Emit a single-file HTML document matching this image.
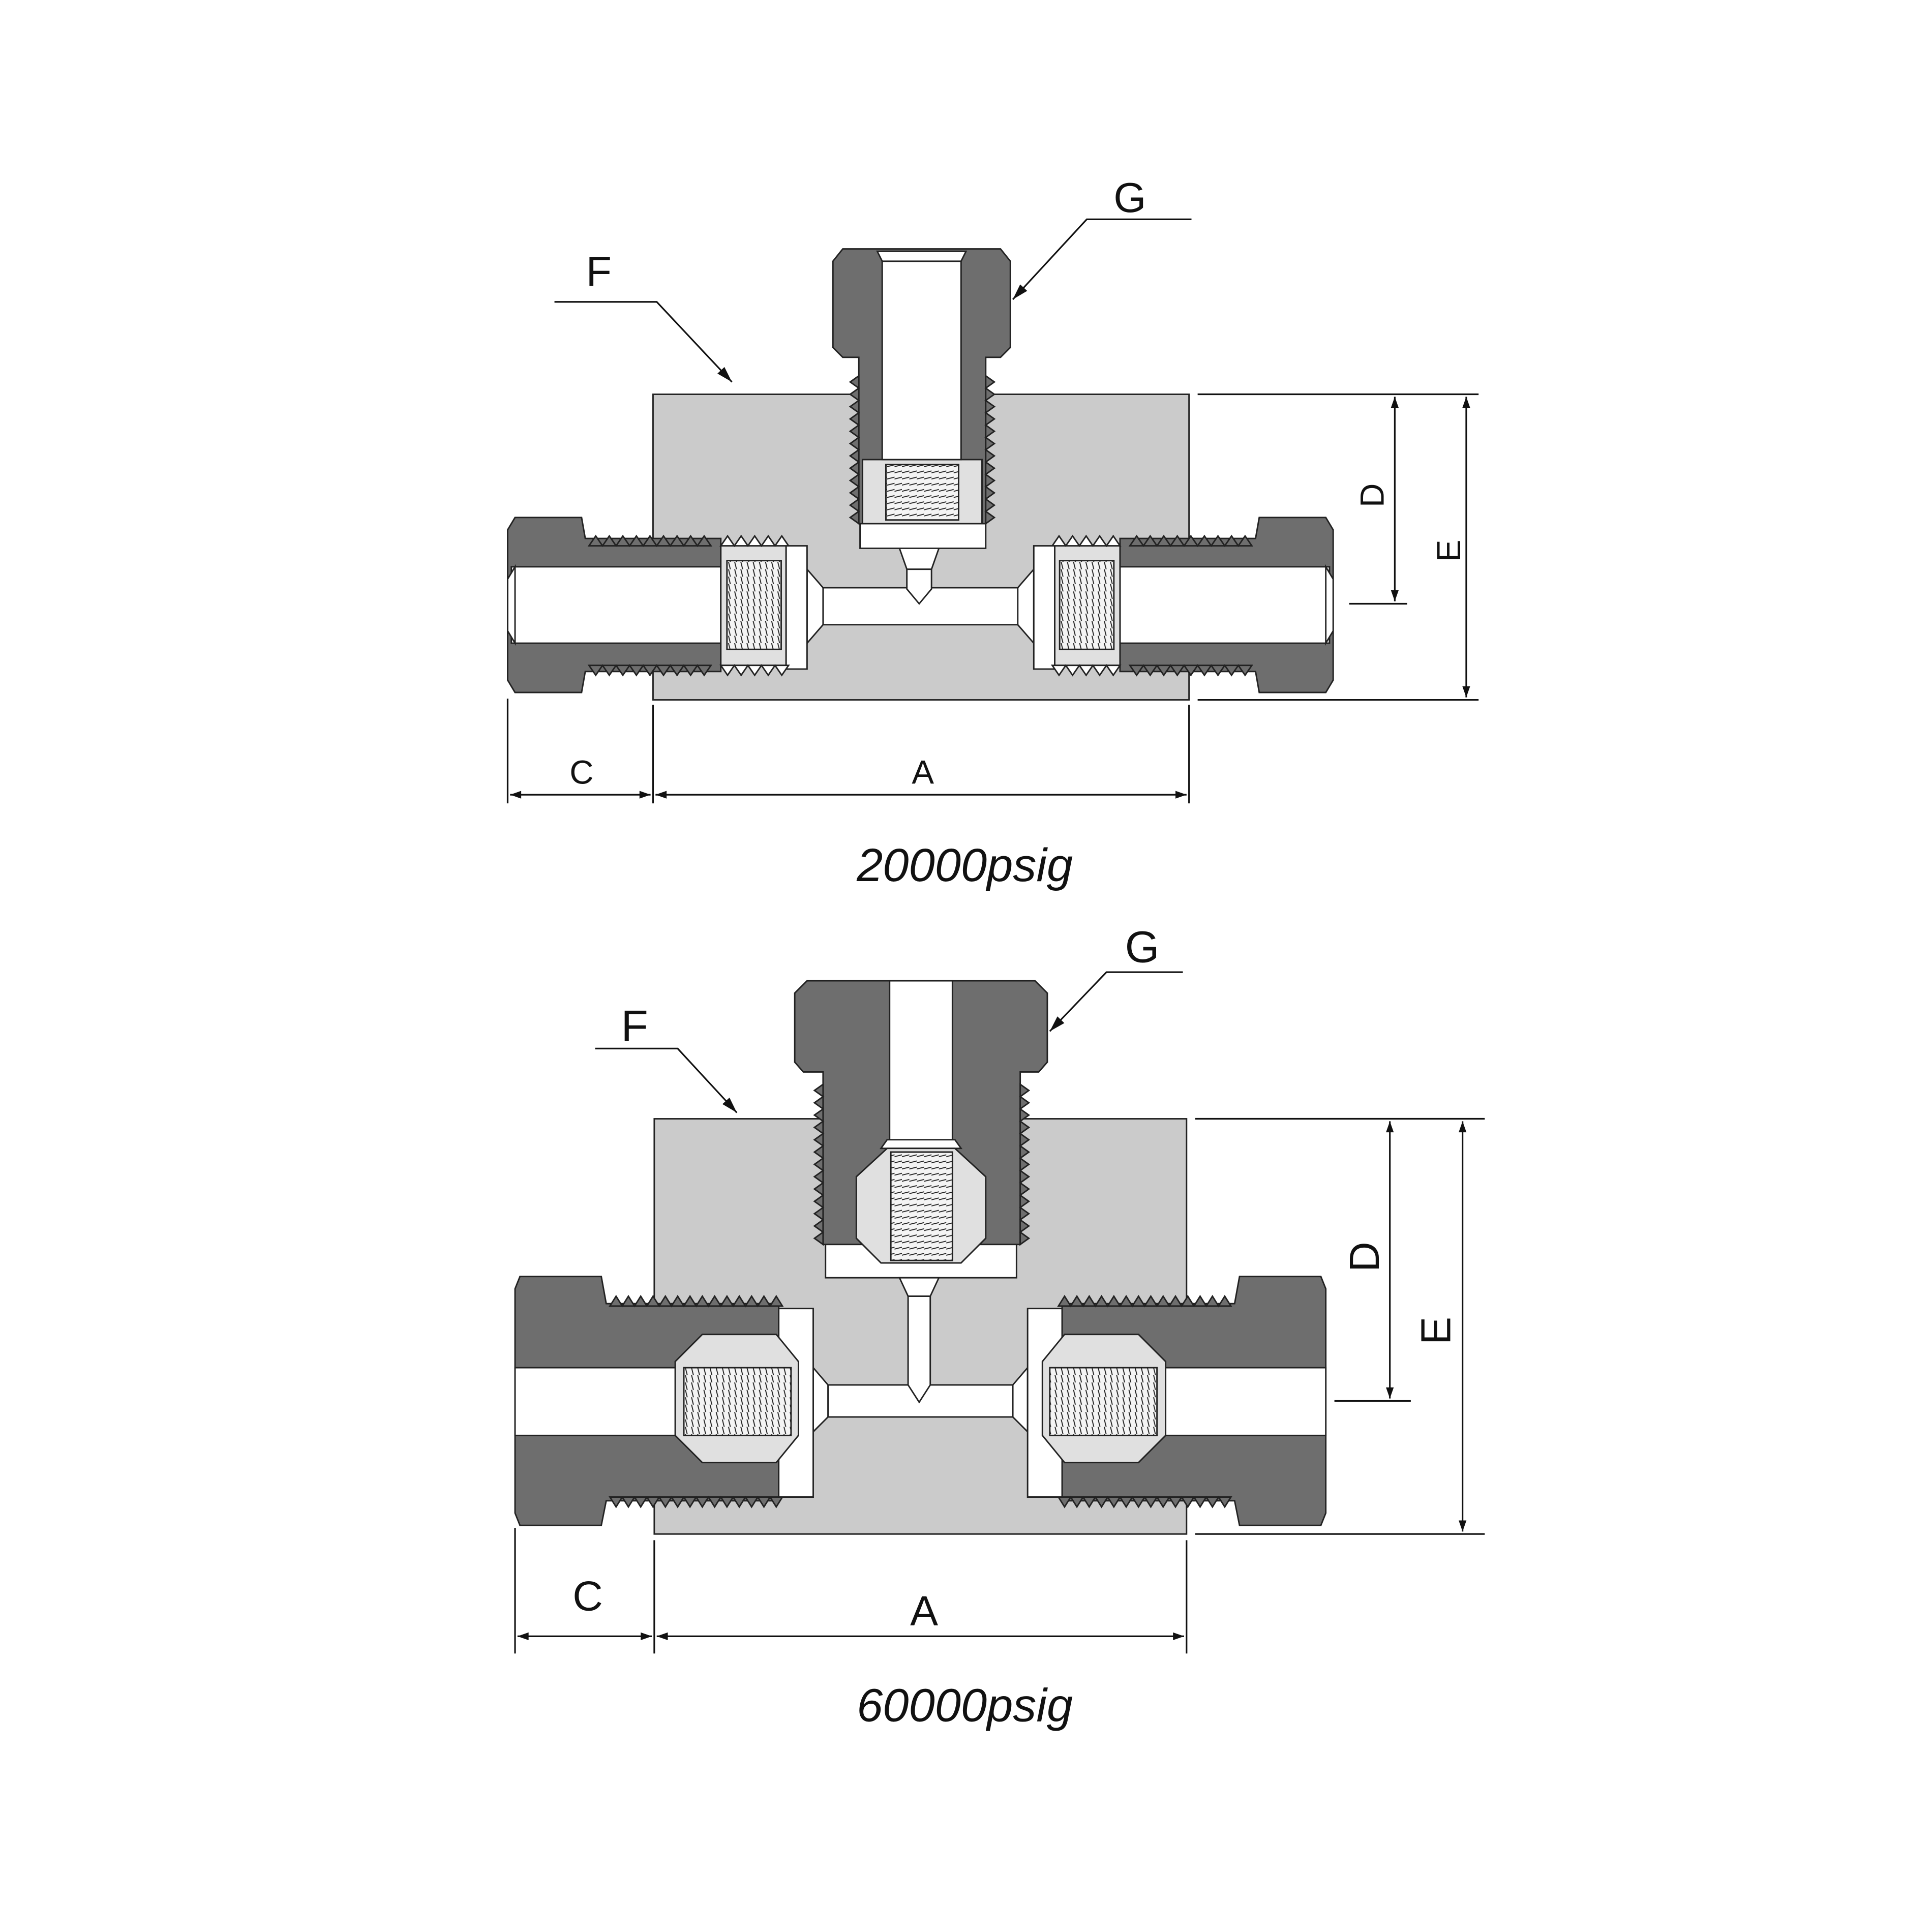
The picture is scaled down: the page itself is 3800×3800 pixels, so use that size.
<!DOCTYPE html>
<html><head><meta charset="utf-8"><style>
html,body{margin:0;padding:0;background:#fff;}
svg{display:block;}
text{font-family:"Liberation Sans",sans-serif;fill:#111;}
</style></head><body>
<svg id="s" width="3800" height="3800" viewBox="0 0 1568 1568" xmlns="http://www.w3.org/2000/svg">
<defs>
<marker id="ar" viewBox="0 0 10 10" refX="10" refY="5" markerWidth="13" markerHeight="9" orient="auto-start-reverse" markerUnits="userSpaceOnUse"><path d="M0,1.5 L10,5 L0,8.5 z" fill="#111"/></marker>
<marker id="ar2" viewBox="0 0 10 10" refX="10" refY="5" markerWidth="30" markerHeight="13" orient="auto" markerUnits="userSpaceOnUse"><path d="M0,2 L10,5 L0,8 z" fill="#111"/></marker>
<pattern id="hv" width="6" height="5" patternUnits="userSpaceOnUse"><rect width="6" height="5" fill="#f4f4f4"/><path d="M-1,4 L7,2" stroke="#222" stroke-width="0.8"/></pattern>
<pattern id="hh" width="5" height="6" patternUnits="userSpaceOnUse"><rect width="5" height="6" fill="#f4f4f4"/><path d="M1,-1 L3,7" stroke="#222" stroke-width="0.8"/></pattern>
</defs>
<g id="g" stroke="#222" stroke-width="1.2"></g>
<g stroke="#111" stroke-width="1.3" fill="none">
<line x1="972" y1="320" x2="1200" y2="320"/><line x1="972" y1="568" x2="1200" y2="568"/>
<line x1="1132" y1="322" x2="1132" y2="488" marker-start="url(#ar)" marker-end="url(#ar)"/>
<line x1="1095" y1="490" x2="1142" y2="490"/>
<line x1="1190" y1="322" x2="1190" y2="566" marker-start="url(#ar)" marker-end="url(#ar)"/>
<line x1="412" y1="567" x2="412" y2="652"/><line x1="530" y1="572" x2="530" y2="652"/><line x1="965" y1="572" x2="965" y2="652"/>
<line x1="414" y1="645" x2="528" y2="645" marker-start="url(#ar)" marker-end="url(#ar)"/>
<line x1="532" y1="645" x2="963" y2="645" marker-start="url(#ar)" marker-end="url(#ar)"/>
<polyline points="450,245 533,245 594,310" marker-end="url(#ar2)"/>
<polyline points="967,178 882,178 822,243" marker-end="url(#ar2)"/>
<line x1="970" y1="908" x2="1205" y2="908"/><line x1="970" y1="1245" x2="1205" y2="1245"/>
<line x1="1128" y1="910" x2="1128" y2="1135" marker-start="url(#ar)" marker-end="url(#ar)"/>
<line x1="1083" y1="1137" x2="1145" y2="1137"/>
<line x1="1187" y1="910" x2="1187" y2="1243" marker-start="url(#ar)" marker-end="url(#ar)"/>
<line x1="418" y1="1240" x2="418" y2="1342"/><line x1="531" y1="1250" x2="531" y2="1342"/><line x1="963" y1="1250" x2="963" y2="1342"/>
<line x1="420" y1="1328" x2="529" y2="1328" marker-start="url(#ar)" marker-end="url(#ar)"/>
<line x1="533" y1="1328" x2="961" y2="1328" marker-start="url(#ar)" marker-end="url(#ar)"/>
<polyline points="483,851 550,851 598,903" marker-end="url(#ar2)"/>
<polyline points="960,789 898,789 852,837" marker-end="url(#ar2)"/>
</g>
<text x="486" y="232" font-size="34" text-anchor="middle">F</text>
<text x="917" y="172" font-size="34" text-anchor="middle">G</text>
<text x="472" y="636" font-size="27" text-anchor="middle">C</text>
<text x="749" y="636" font-size="27" text-anchor="middle">A</text>
<text transform="translate(1123,402) rotate(-90)" font-size="27" text-anchor="middle">D</text>
<text transform="translate(1185,447) rotate(-90)" font-size="27" text-anchor="middle">E</text>
<text x="783" y="715" font-size="38" font-style="italic" text-anchor="middle">20000psig</text>
<text x="515" y="845" font-size="36" text-anchor="middle">F</text>
<text x="927" y="781" font-size="36" text-anchor="middle">G</text>
<text x="477" y="1307" font-size="34" text-anchor="middle">C</text>
<text x="750" y="1319" font-size="34" text-anchor="middle">A</text>
<text transform="translate(1119,1020) rotate(-90)" font-size="34" text-anchor="middle">D</text>
<text transform="translate(1177,1080) rotate(-90)" font-size="34" text-anchor="middle">E</text>
<text x="783" y="1397" font-size="38" font-style="italic" text-anchor="middle">60000psig</text>
</svg>
<script>
var D="#6e6e6e",B="#cbcbcb",L="#e0e0e0",W="#ffffff";
var o=[];
function P(pts,f){o.push('<polygon points="'+pts.map(function(p){return p.join(",")}).join(" ")+'" fill="'+f+'"/>');}
function R(x,y,w,h,f){o.push('<rect x="'+x+'" y="'+y+'" width="'+w+'" height="'+h+'" fill="'+f+'"/>');}
function MX(pts){return pts.map(function(p){return [1494-p[0],p[1]]});}
function teethV(x,y1,y2,h,pitch,f){var pts=[[x,y1]];for(var y=y1;y+pitch<=y2+0.1;y+=pitch){pts.push([x+h,y+pitch/2]);pts.push([x,y+pitch]);}P(pts,f);}
R(530,320,435,248,B);
R(668,477,160,30,W);
P([[655,462],[668,477],[668,507],[655,522]],W);P([[839,462],[826,477],[826,507],[839,522]],W);
function topSide(m){
 var f=m?MX:function(p){return p};
 P(f([[412,430],[418,420],[472,420],[475,437],[585,437],[585,545],[475,545],[472,562],[418,562],[412,552]]),D);
 P(f([[415,460],[585,460],[585,522],[415,522]]),W);
 P(f([[418,460],[412,470],[412,512],[418,522]]),W);
 P(f([[585,443],[638,443],[638,540],[585,540]]),L);
 P(f([[590,455],[634,455],[634,527],[590,527]]),"url(#hh)");
 P(f([[638,443],[655,443],[655,543],[638,543]]),W);
 var tx=[[478,585,D],[585,640,W]];
 tx.forEach(function(t){
  var p1=[[t[0],443]],p2=[[t[0],540]];
  for(var x=t[0];x+11<=t[1]+0.1;x+=11){p1.push([x+5.5,435]);p1.push([x+11,443]);p2.push([x+5.5,548]);p2.push([x+11,540]);}
  P(f(p1),t[2]);P(f(p2),t[2]);
 });
}
topSide(false);topSide(true);
P([[676,212],[684,202],[812,202],[820,212],[820,282],[812,290],[800,290],[800,425],[697,425],[697,290],[684,290],[676,282]],D);
teethV(697,305,425,-7,10,D);teethV(800,305,425,7,10,D);
R(700,373,97,52,L);
R(719,377,59,45,"url(#hv)");
R(716,204,64,169,W);
P([[712,204],[784,204],[780,212],[716,212]],W);
R(698,425,102,20,W);
P([[730,445],[762,445],[756,462],[736,462]],W);
P([[736,462],[756,462],[756,478],[746,490],[736,478]],W);
R(531,908,432,337,B);
R(672,1124,150,26,W);
P([[660,1110],[672,1124],[672,1150],[660,1162]],W);P([[834,1110],[822,1124],[822,1150],[834,1162]],W);
function botSide(m){
 var f=m?MX:function(p){return p};
 P(f([[418,1046],[422,1036],[488,1036],[492,1058],[632,1058],[632,1218],[492,1218],[488,1238],[422,1238],[418,1228]]),D);
 var p1=[[495,1060]],p2=[[495,1215]];
 for(var x=495;x+10<=640;x+=10){p1.push([x+5,1052]);p1.push([x+10,1060]);p2.push([x+5,1223]);p2.push([x+10,1215]);}
 P(f(p1),D);P(f(p2),D);
 P(f([[632,1062],[660,1062],[660,1215],[632,1215]]),W);
 P(f([[418,1110],[560,1110],[560,1165],[418,1165]]),W);
 P(f([[570,1083],[630,1083],[648,1105],[648,1165],[630,1187],[570,1187],[548,1165],[548,1105]]),L);
 P(f([[555,1110],[642,1110],[642,1165],[555,1165]]),"url(#hh)");
}
botSide(false);botSide(true);
P([[645,806],[655,796],[840,796],[850,806],[850,862],[843,870],[828,870],[828,1010],[668,1010],[668,870],[652,870],[645,862]],D);
teethV(668,880,1010,-7,10,D);teethV(828,880,1010,7,10,D);
R(670,1010,155,27,W);
R(722,796,51,130,W);
P([[720,925],[775,925],[780,932],[715,932]],W);
P([[720,932],[775,932],[800,955],[800,1005],[780,1025],[715,1025],[695,1005],[695,955]],L);
R(723,935,50,88,"url(#hv)");
P([[730,1037],[762,1037],[755,1052],[737,1052]],W);
P([[737,1052],[755,1052],[755,1124],[746,1138],[737,1124]],W);
document.getElementById("g").innerHTML=o.join("");
</script>
</body></html>
